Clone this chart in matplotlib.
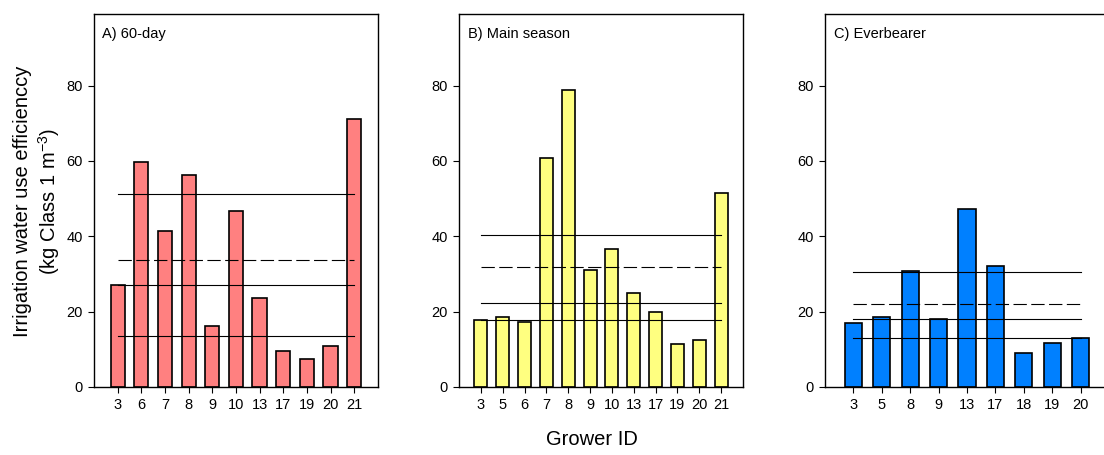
import numpy as np
import matplotlib
matplotlib.use("Agg")
from matplotlib import pyplot as plt

plt.rcParams['font.family'] = ['Liberation Sans', 'DejaVu Sans']
plt.rcParams['mathtext.default'] = 'regular'

# panel A - 60-day
growers_a = ['3', '6', '7', '8', '9', '10', '13', '17', '19', '20', '21']
iwue_a = [27.1, 59.6, 41.4, 56.2, 16.2, 46.6, 23.5, 9.5, 7.5, 11.0, 71.2]
lines_a = [51.3, 27.0, 13.6]
dash_a = 33.6

# panel B - main season
growers_b = ['3', '5', '6', '7', '8', '9', '10', '13', '17', '19', '20', '21']
iwue_b = [17.7, 18.7, 17.2, 60.9, 78.7, 31.1, 36.6, 24.9, 20.0, 11.4, 12.5, 51.6]
lines_b = [40.3, 22.4, 17.7]
dash_b = 31.8

# panel C - everbearer
growers_c = ['3', '5', '8', '9', '13', '17', '18', '19', '20']
iwue_c = [17.1, 18.7, 30.8, 18.1, 47.3, 32.1, 8.9, 11.7, 13.0]
lines_c = [30.6, 18.0, 13.0]
dash_c = 21.9

panels = [
    ('A) 60-day', growers_a, iwue_a, lines_a, dash_a, '#FF8080', 0.0851),
    ('B) Main season', growers_b, iwue_b, lines_b, dash_b, '#FFFF80', 0.4158),
    ('C) Everbearer', growers_c, iwue_c, lines_c, dash_c, '#0080FF', 0.7473),
]

fig = plt.figure(figsize=(11.04, 4.55), dpi=100)

for title, growers, vals, lines, dash, col, left in panels:
    ax = fig.add_axes([left, 0.1495, 0.2572, 0.8198])
    x = np.arange(len(growers))
    ax.bar(x, vals, width=0.6, color=col, edgecolor='black', linewidth=1.2, zorder=2)
    for v in lines:
        ax.plot([x[0], x[-1]], [v, v], color='black', linewidth=0.8, zorder=3)
    ax.plot([x[0], x[-1]], [dash, dash], color='black', linewidth=0.8,
            linestyle=(0, (12, 4)), zorder=3)
    ax.set_xlim(-1, len(growers))
    ax.set_ylim(0, 99)
    ax.set_xticks(x)
    ax.set_xticklabels(growers)
    ax.set_yticks([0, 20, 40, 60, 80])
    ax.tick_params(direction='out', length=4, width=0.8, labelsize=10.5, pad=4)
    for s in ax.spines.values():
        s.set_linewidth(1.0)
    ax.text(0.03, 0.965, title, transform=ax.transAxes, fontsize=10.5, va='top', ha='left')

fig.text(0.020, 0.558, 'Irrigation water use efficienccy', rotation=90,
         fontsize=14.5, ha='center', va='center')
fig.text(0.044, 0.558, '(kg Class 1 m$^{-3}$)', rotation=90,
         fontsize=14.5, ha='center', va='center')
fig.text(0.536, 0.033, 'Grower ID', fontsize=14.5, ha='center', va='center')

fig.savefig('out.png', dpi=100)
